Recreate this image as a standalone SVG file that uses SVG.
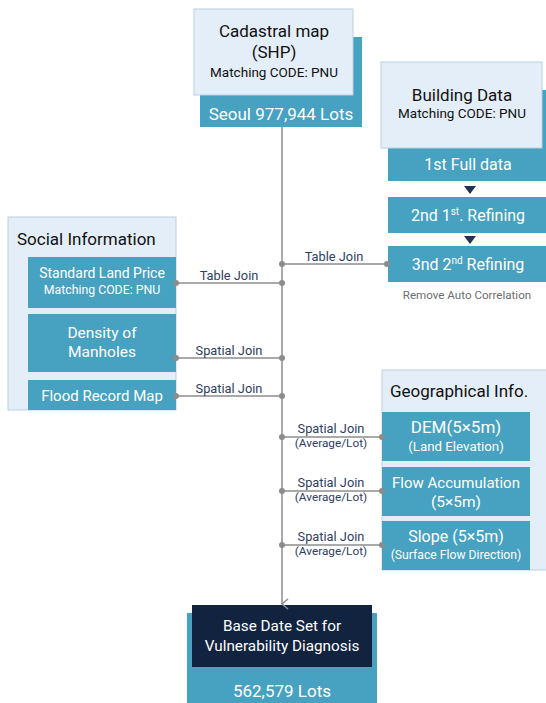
<svg xmlns="http://www.w3.org/2000/svg" width="546" height="703" viewBox="0 0 546 703">
<style>
text{font-family:Roboto,"Liberation Sans",sans-serif}
.light{fill:#e4eef8;stroke:#bccfe2;stroke-width:1}
.teal{fill:#47a1c0}
.dark{fill:#12233f}
.w{fill:#ffffff}
.k{fill:#111111}
.lbl{fill:#2e3e62;font-size:12.8px}
.lbl2{fill:#2e3e62;font-size:11.8px}
.ln{stroke:#8c8c8c;stroke-width:1.5;fill:none}
.dot{fill:#8c8c8c}
.tri{fill:#1e3558}
</style>
<defs>
<marker id="arr" markerWidth="12" markerHeight="10" refX="6" refY="8" orient="auto" markerUnits="userSpaceOnUse" viewBox="0 0 12 10">
<path d="M1,2 L6,8 L11,2" fill="none" stroke="#8c8c8c" stroke-width="1.5"/>
</marker>
</defs>
<rect width="546" height="703" fill="#ffffff"/>

<g id="cadastral">
<rect class="teal" x="200" y="37" width="162" height="90"/>
<rect class="light" x="194" y="9" width="159" height="86"/>
<text class="k" x="274" y="37" font-size="17" text-anchor="middle">Cadastral map</text>
<text class="k" x="274" y="58" font-size="17" text-anchor="middle">(SHP)</text>
<text class="k" x="274" y="77" font-size="13.5" text-anchor="middle">Matching CODE: PNU</text>
<text class="w" x="281" y="120" font-size="17" text-anchor="middle">Seoul 977,944 Lots</text>
</g>

<g id="building">
<rect class="teal" x="388" y="90" width="158" height="91"/>
<rect class="light" x="381" y="62" width="161" height="86"/>
<text class="k" x="462" y="101" font-size="17" text-anchor="middle">Building Data</text>
<text class="k" x="462" y="118" font-size="13.5" text-anchor="middle">Matching CODE: PNU</text>
<text class="w" x="468" y="170" font-size="16" text-anchor="middle">1st Full data</text>
</g>
<g id="refining1">
<rect class="teal" x="388" y="197" width="158" height="36"/>
<text class="w" x="468" y="221" font-size="16" text-anchor="middle">2nd 1<tspan font-size="10" dy="-6">st</tspan><tspan dy="6">. Refining</tspan></text>
</g>
<g id="refining2">
<rect class="teal" x="388" y="246" width="158" height="36"/>
<text class="w" x="468" y="270" font-size="16" text-anchor="middle">3nd 2<tspan font-size="10" dy="-6">nd</tspan><tspan dy="6"> Refining</tspan></text>
<text fill="#6d6d6d" x="467" y="299" font-size="11.6" text-anchor="middle">Remove Auto Correlation</text>
</g>
<path class="tri" d="M464,186 L476,186 L470,194 Z"/>
<path class="tri" d="M464,236 L476,236 L470,244 Z"/>

<g id="social">
<rect class="light" x="8" y="217" width="168" height="193"/>
<text class="k" x="17" y="245" font-size="17">Social Information</text>
</g>
<g id="landprice">
<rect class="teal" x="28" y="257" width="148" height="51"/>
<text class="w" x="102" y="278" font-size="14" text-anchor="middle">Standard Land Price</text>
<text class="w" x="102" y="294" font-size="12.3" text-anchor="middle">Matching CODE: PNU</text>
</g>
<g id="manholes">
<rect class="teal" x="28" y="314" width="148" height="58"/>
<text class="w" x="102" y="338" font-size="15.5" text-anchor="middle">Density of</text>
<text class="w" x="102" y="357" font-size="15.5" text-anchor="middle">Manholes</text>
</g>
<g id="flood">
<rect class="teal" x="28" y="380" width="148" height="30"/>
<text class="w" x="102" y="401" font-size="15" text-anchor="middle">Flood Record Map</text>
</g>

<g id="geo">
<rect class="light" x="382" y="370" width="170" height="200"/>
<text class="k" x="390" y="397" font-size="17">Geographical Info.</text>
</g>
<g id="dem">
<rect class="teal" x="382" y="412" width="148" height="49"/>
<text class="w" x="456" y="433" font-size="17" text-anchor="middle">DEM(5×5m)</text>
<text class="w" x="456" y="451" font-size="13.3" text-anchor="middle">(Land Elevation)</text>
</g>
<g id="flow">
<rect class="teal" x="382" y="467" width="148" height="49"/>
<text class="w" x="456" y="488" font-size="15" text-anchor="middle">Flow Accumulation</text>
<text class="w" x="456" y="507" font-size="15.5" text-anchor="middle">(5×5m)</text>
</g>
<g id="slope">
<rect class="teal" x="382" y="521" width="148" height="49"/>
<text class="w" x="456" y="542" font-size="16" text-anchor="middle">Slope (5×5m)</text>
<text class="w" x="456" y="559" font-size="12.2" text-anchor="middle">(Surface Flow Direction)</text>
</g>

<g id="result">
<rect class="teal" x="187" y="613" width="190" height="90"/>
<rect class="dark" x="192" y="605" width="180" height="62"/>
<text class="w" x="282" y="631" font-size="15.3" text-anchor="middle">Base Date Set for</text>
<text class="w" x="282" y="651" font-size="15.3" text-anchor="middle">Vulnerability Diagnosis</text>
<text class="w" x="282" y="697" font-size="17" text-anchor="middle">562,579 Lots</text>
</g>

<g id="connectors">
<line class="ln" x1="282" y1="127" x2="282" y2="604" marker-end="url(#arr)"/>
<line class="ln" x1="282" y1="264" x2="387" y2="264"/>
<line class="ln" x1="176" y1="283" x2="282" y2="283"/>
<line class="ln" x1="176" y1="358" x2="282" y2="358"/>
<line class="ln" x1="176" y1="396" x2="282" y2="396"/>
<line class="ln" x1="282" y1="437" x2="382" y2="437"/>
<line class="ln" x1="282" y1="491" x2="382" y2="491"/>
<line class="ln" x1="282" y1="545" x2="382" y2="545"/>
<g class="dot">
<circle cx="282" cy="264" r="3"/><circle cx="387" cy="264" r="3"/>
<circle cx="176" cy="283" r="3"/><circle cx="282" cy="283" r="3"/>
<circle cx="176" cy="358" r="3"/><circle cx="282" cy="358" r="3"/>
<circle cx="176" cy="396" r="3"/><circle cx="282" cy="396" r="3"/>
<circle cx="282" cy="437" r="3"/><circle cx="382" cy="437" r="3"/>
<circle cx="282" cy="491" r="3"/><circle cx="382" cy="491" r="3"/>
<circle cx="282" cy="545" r="3"/><circle cx="382" cy="545" r="3"/>
</g>
<text class="lbl" x="334" y="261" text-anchor="middle">Table Join</text>
<text class="lbl" x="229" y="280" text-anchor="middle">Table Join</text>
<text class="lbl" x="229" y="355" text-anchor="middle">Spatial Join</text>
<text class="lbl" x="229" y="393" text-anchor="middle">Spatial Join</text>
<text class="lbl" x="331" y="433" text-anchor="middle">Spatial Join</text>
<text class="lbl2" x="331" y="447" text-anchor="middle">(Average/Lot)</text>
<text class="lbl" x="331" y="487" text-anchor="middle">Spatial Join</text>
<text class="lbl2" x="331" y="501" text-anchor="middle">(Average/Lot)</text>
<text class="lbl" x="331" y="541" text-anchor="middle">Spatial Join</text>
<text class="lbl2" x="331" y="555" text-anchor="middle">(Average/Lot)</text>
</g>
</svg>
